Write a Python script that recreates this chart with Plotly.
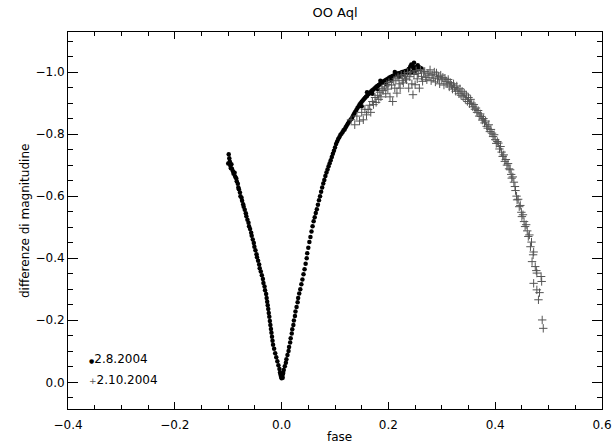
import plotly.graph_objects as go

# ---- data: 2.8.2004 (filled dots) ----
phase_aug = [-0.099, -0.098, -0.100, -0.097, -0.096, -0.094, -0.095, -0.093, -0.091, -0.090,
             -0.088, -0.087, -0.085, -0.084, -0.082, -0.081, -0.080, -0.078, -0.077, -0.075,
             -0.074, -0.072, -0.071, -0.069, -0.067, -0.066, -0.064, -0.062, -0.061, -0.059,
             -0.057, -0.056, -0.054, -0.052, -0.051, -0.049, -0.047, -0.046, -0.044, -0.042,
             -0.041, -0.039, -0.037, -0.035, -0.034, -0.032, -0.031, -0.029, -0.028, -0.027,
             -0.026, -0.025, -0.024, -0.023, -0.022, -0.021, -0.020, -0.019, -0.018, -0.017,
             -0.016, -0.014, -0.012, -0.010, -0.008, -0.006, -0.004, -0.003, -0.002, -0.001,
             0.000, 0.001, -0.001, 0.002, 0.002,
             0.003, 0.004, 0.006, 0.008, 0.009, 0.011, 0.013, 0.014, 0.016, 0.017,
             0.019, 0.020, 0.022, 0.023, 0.025, 0.026, 0.028, 0.030, 0.031, 0.033,
             0.035, 0.037, 0.039, 0.041, 0.043, 0.045, 0.047, 0.048, 0.050, 0.052,
             0.054, 0.056, 0.058, 0.060, 0.062, 0.064, 0.066, 0.068, 0.070, 0.072,
             0.074, 0.076, 0.078, 0.080, 0.082, 0.084, 0.086, 0.088, 0.090, 0.092,
             0.094, 0.096, 0.098, 0.100, 0.102, 0.104, 0.106, 0.108, 0.110, 0.112,
             0.114, 0.116, 0.118, 0.120, 0.122, 0.124, 0.126, 0.128, 0.130, 0.132,
             0.134, 0.136, 0.138, 0.140, 0.142, 0.144, 0.146, 0.148, 0.150, 0.152,
             0.154, 0.156, 0.158, 0.160, 0.162, 0.164, 0.166, 0.168, 0.170, 0.172,
             0.174, 0.176, 0.178, 0.180, 0.182, 0.184, 0.186, 0.188, 0.190, 0.192,
             0.194, 0.196, 0.198, 0.200, 0.202, 0.205, 0.208, 0.211, 0.214, 0.217,
             0.220, 0.223, 0.226, 0.229, 0.232, 0.235, 0.238, 0.241, 0.243, 0.245,
             0.247, 0.250, 0.253, 0.256, 0.259, 0.262,
             0.150, 0.160, 0.170, 0.180, 0.185, 0.195, 0.205, 0.212, 0.220, 0.228,
             0.236, 0.244, 0.251, 0.255, 0.248]
mag_aug = [-0.735, -0.722, -0.705, -0.712, -0.698, -0.703, -0.690, -0.688, -0.680, -0.672,
           -0.675, -0.663, -0.658, -0.648, -0.640, -0.628, -0.622, -0.612, -0.600, -0.595,
           -0.585, -0.574, -0.566, -0.556, -0.545, -0.535, -0.524, -0.514, -0.503, -0.494,
           -0.482, -0.472, -0.460, -0.449, -0.437, -0.426, -0.413, -0.403, -0.392, -0.380,
           -0.368, -0.357, -0.345, -0.333, -0.320, -0.309, -0.297, -0.285, -0.272, -0.260,
           -0.248, -0.236, -0.223, -0.211, -0.198, -0.185, -0.172, -0.160, -0.147, -0.134,
           -0.121, -0.108, -0.094, -0.081, -0.068, -0.055, -0.043, -0.032, -0.024, -0.018,
           -0.013, -0.020, -0.028, -0.015, -0.026,
           -0.030, -0.040, -0.052, -0.063, -0.074, -0.088, -0.101, -0.114, -0.128, -0.142,
           -0.157, -0.171, -0.185, -0.199, -0.214, -0.228, -0.243, -0.258, -0.272, -0.286,
           -0.300, -0.316, -0.331, -0.348, -0.364, -0.382, -0.400, -0.416, -0.434, -0.452,
           -0.468, -0.486, -0.503, -0.519, -0.532, -0.546, -0.558, -0.572, -0.587, -0.600,
           -0.614, -0.628, -0.641, -0.652, -0.665, -0.676, -0.686, -0.696, -0.706, -0.716,
           -0.726, -0.737, -0.746, -0.757, -0.768, -0.776, -0.784, -0.790, -0.797, -0.801,
           -0.806, -0.812, -0.815, -0.822, -0.828, -0.833, -0.839, -0.844, -0.848, -0.853,
           -0.860, -0.866, -0.872, -0.878, -0.884, -0.889, -0.895, -0.899, -0.904, -0.908,
           -0.912, -0.916, -0.920, -0.923, -0.928, -0.931, -0.934, -0.938, -0.941, -0.944,
           -0.947, -0.950, -0.953, -0.956, -0.958, -0.961, -0.964, -0.966, -0.969, -0.971,
           -0.973, -0.975, -0.977, -0.979, -0.982, -0.985, -0.987, -0.990, -0.992, -0.995,
           -0.996, -0.998, -1.000, -1.001, -1.003, -1.004, -1.010, -1.018, -1.024, -1.020,
           -1.012, -1.015, -1.013, -1.010, -1.014, -1.011,
           -0.890, -0.935, -0.930, -0.945, -0.972, -0.962, -0.975, -1.000, -0.985, -0.992,
           -0.996, -1.000, -1.004, -1.022, -1.030]

# ---- data: 2.10.2004 (crosses) ----
phase_oct = [0.130, 0.137, 0.141, 0.146, 0.150, 0.153, 0.156, 0.159, 0.162, 0.165,
             0.167, 0.170, 0.172, 0.175, 0.177, 0.180, 0.182, 0.184, 0.186, 0.188,
             0.190, 0.193, 0.195, 0.197, 0.199, 0.201, 0.203, 0.206, 0.208, 0.210,
             0.212, 0.214, 0.216, 0.218, 0.220, 0.222, 0.224, 0.226, 0.228, 0.230,
             0.232, 0.234, 0.236, 0.238, 0.240, 0.242, 0.244, 0.246, 0.248, 0.250,
             0.252, 0.254, 0.256, 0.258, 0.260, 0.262, 0.264, 0.266, 0.268, 0.270,
             0.272, 0.274, 0.276, 0.278, 0.280, 0.282, 0.284, 0.286, 0.288, 0.290,
             0.292, 0.294, 0.296, 0.298, 0.300, 0.302, 0.304, 0.306, 0.308, 0.310,
             0.312, 0.314, 0.316, 0.318, 0.320, 0.322, 0.324, 0.326, 0.328, 0.330,
             0.332, 0.334, 0.336, 0.338, 0.340, 0.342, 0.344, 0.346, 0.348, 0.350,
             0.352, 0.354, 0.356, 0.358, 0.360, 0.362, 0.364, 0.366, 0.368, 0.370,
             0.372, 0.374, 0.376, 0.378, 0.380, 0.382, 0.384, 0.386, 0.388, 0.390,
             0.392, 0.394, 0.396, 0.398, 0.400, 0.402, 0.404, 0.406, 0.408, 0.410,
             0.412, 0.414, 0.416, 0.418, 0.420, 0.422, 0.424, 0.426, 0.428, 0.430,
             0.431, 0.433, 0.435, 0.437, 0.438, 0.440, 0.441, 0.443, 0.445, 0.447,
             0.449, 0.450, 0.452, 0.454, 0.456, 0.458, 0.460, 0.462, 0.464, 0.466,
             0.468, 0.469, 0.471, 0.472, 0.472, 0.475, 0.477, 0.478, 0.478, 0.481,
             0.483, 0.486, 0.487, 0.488, 0.490]
mag_oct = [-0.846, -0.830, -0.858, -0.842, -0.870, -0.846, -0.880, -0.862, -0.879, -0.893,
           -0.870, -0.905, -0.895, -0.918, -0.902, -0.925, -0.912, -0.935, -0.920, -0.946,
           -0.940, -0.952, -0.930, -0.960, -0.945, -0.966, -0.920, -0.958, -0.905, -0.972,
           -0.948, -0.978, -0.932, -0.984, -0.962, -0.948, -0.990, -0.972, -0.965, -0.992,
           -0.980, -0.975, -0.998, -0.948, -0.985, -1.000, -0.962, -0.927, -0.992, -0.959,
           -1.004, -0.978, -0.995, -0.948, -1.008, -0.986, -0.970, -1.000, -1.002, -0.982,
           -0.975, -0.996, -0.990, -1.007, -0.972, -0.991, -0.981, -1.000, -0.968, -0.997,
           -0.978, -0.986, -0.962, -0.990, -0.975, -0.983, -0.958, -0.980, -0.970, -0.962,
           -0.976, -0.952, -0.966, -0.958, -0.945, -0.962, -0.950, -0.938, -0.955, -0.942,
           -0.930, -0.946, -0.925, -0.938, -0.920, -0.932, -0.912, -0.926, -0.905, -0.918,
           -0.898, -0.912, -0.900, -0.888, -0.895, -0.880, -0.884, -0.870, -0.876, -0.858,
           -0.865, -0.857, -0.845, -0.850, -0.836, -0.842, -0.825, -0.819, -0.830, -0.808,
           -0.815, -0.803, -0.792, -0.798, -0.782, -0.770, -0.776, -0.771, -0.752, -0.760,
           -0.742, -0.728, -0.733, -0.712, -0.718, -0.700, -0.705, -0.688, -0.685, -0.670,
           -0.658, -0.662, -0.645, -0.631, -0.618, -0.600, -0.588, -0.590, -0.566, -0.570,
           -0.548, -0.534, -0.540, -0.518, -0.502, -0.508, -0.488, -0.470, -0.475, -0.437,
           -0.452, -0.389, -0.411, -0.420, -0.319, -0.373, -0.360, -0.352, -0.298, -0.266,
           -0.289, -0.341, -0.325, -0.201, -0.174]

legend_labels = ["2.8.2004", "2.10.2004"]
x_ticks = [-0.4, -0.2, 0.0, 0.2, 0.4, 0.6]
y_ticks = [-1.0, -0.8, -0.6, -0.4, -0.2, 0.0]

FONT = "DejaVu Sans"
W, H = 612, 446
ML, MR, MT, MB = 68, 10, 32, 37
PW, PH = W - ML - MR, H - MT - MB


def px_x(px):  # pixel -> paper x
    return (px - ML) / PW


def px_y(py):  # pixel -> paper y
    return (H - MB - py) / PH


fig = go.Figure()
fig.add_trace(go.Scatter(x=phase_aug, y=mag_aug, mode="markers", name=legend_labels[0],
                         marker=dict(symbol="circle", size=4.5, color="black", line=dict(width=0)),
                         showlegend=False))
fig.add_trace(go.Scatter(x=phase_oct, y=mag_oct, mode="markers", name=legend_labels[1],
                         marker=dict(symbol="cross-thin", size=6, color="#555555",
                                     line=dict(width=1, color="#555555")),
                         showlegend=False))

axis_common = dict(showgrid=False, zeroline=False, showline=True, linecolor="black", linewidth=1,
                   mirror="allticks", ticks="inside", tickcolor="black", tickwidth=1,
                   automargin=False,
                   tickfont=dict(family=FONT, size=12, color="black"))

fig.update_xaxes(range=[-0.4, 0.6], tickvals=x_ticks,
                 ticktext=[f"{v:.1f}".replace("-", "\u2212") for v in x_ticks],
                 ticklen=7, ticklabelstandoff=5,
                 minor=dict(dtick=0.05, tick0=0, ticks="inside", ticklen=4, tickcolor="black"),
                 **axis_common)
fig.update_yaxes(range=[0.086, -1.129], tickvals=y_ticks,
                 ticktext=[f"{v:.1f}".replace("-", "\u2212") for v in y_ticks],
                 ticklen=10,
                 minor=dict(dtick=0.05, tick0=0, ticks="inside", ticklen=5, tickcolor="black"),
                 **axis_common)

# axis titles
fig.add_annotation(xref="paper", yref="paper", x=px_x(339), y=px_y(437), xanchor="center", yanchor="middle",
                   showarrow=False, text="fase", font=dict(family=FONT, size=12, color="black"))
fig.add_annotation(xref="paper", yref="paper", x=px_x(25), y=px_y(221), xanchor="center", yanchor="middle",
                   showarrow=False, text="differenze di magnitudine", textangle=-90,
                   font=dict(family=FONT, size=12, color="black"))

# legend
fig.add_annotation(xref="paper", yref="paper", x=px_x(87), y=px_y(359), xanchor="left", yanchor="middle",
                   showarrow=False, text="<span style='font-size:6px'>\u25cf</span>" + legend_labels[0],
                   font=dict(family=FONT, size=12, color="black"))
fig.add_annotation(xref="paper", yref="paper", x=px_x(87), y=px_y(380), xanchor="left", yanchor="middle",
                   showarrow=False, text="<span style='font-size:9px;color:#555'>+</span>" + legend_labels[1],
                   font=dict(family=FONT, size=12, color="black"))

fig.update_layout(width=W, height=H, margin=dict(l=ML, r=MR, t=MT, b=MB),
                  paper_bgcolor="white", plot_bgcolor="white",
                  title=dict(text="OO Aql", x=335 / W, xanchor="center",
                             y=1 - 12 / H, yanchor="middle",
                             font=dict(family=FONT, size=13, color="black")),
                  font=dict(family=FONT))

fig.write_html("out.html", config={"displayModeBar": False},
               post_script="document.body.style.margin='0';document.body.style.overflow='hidden';")
